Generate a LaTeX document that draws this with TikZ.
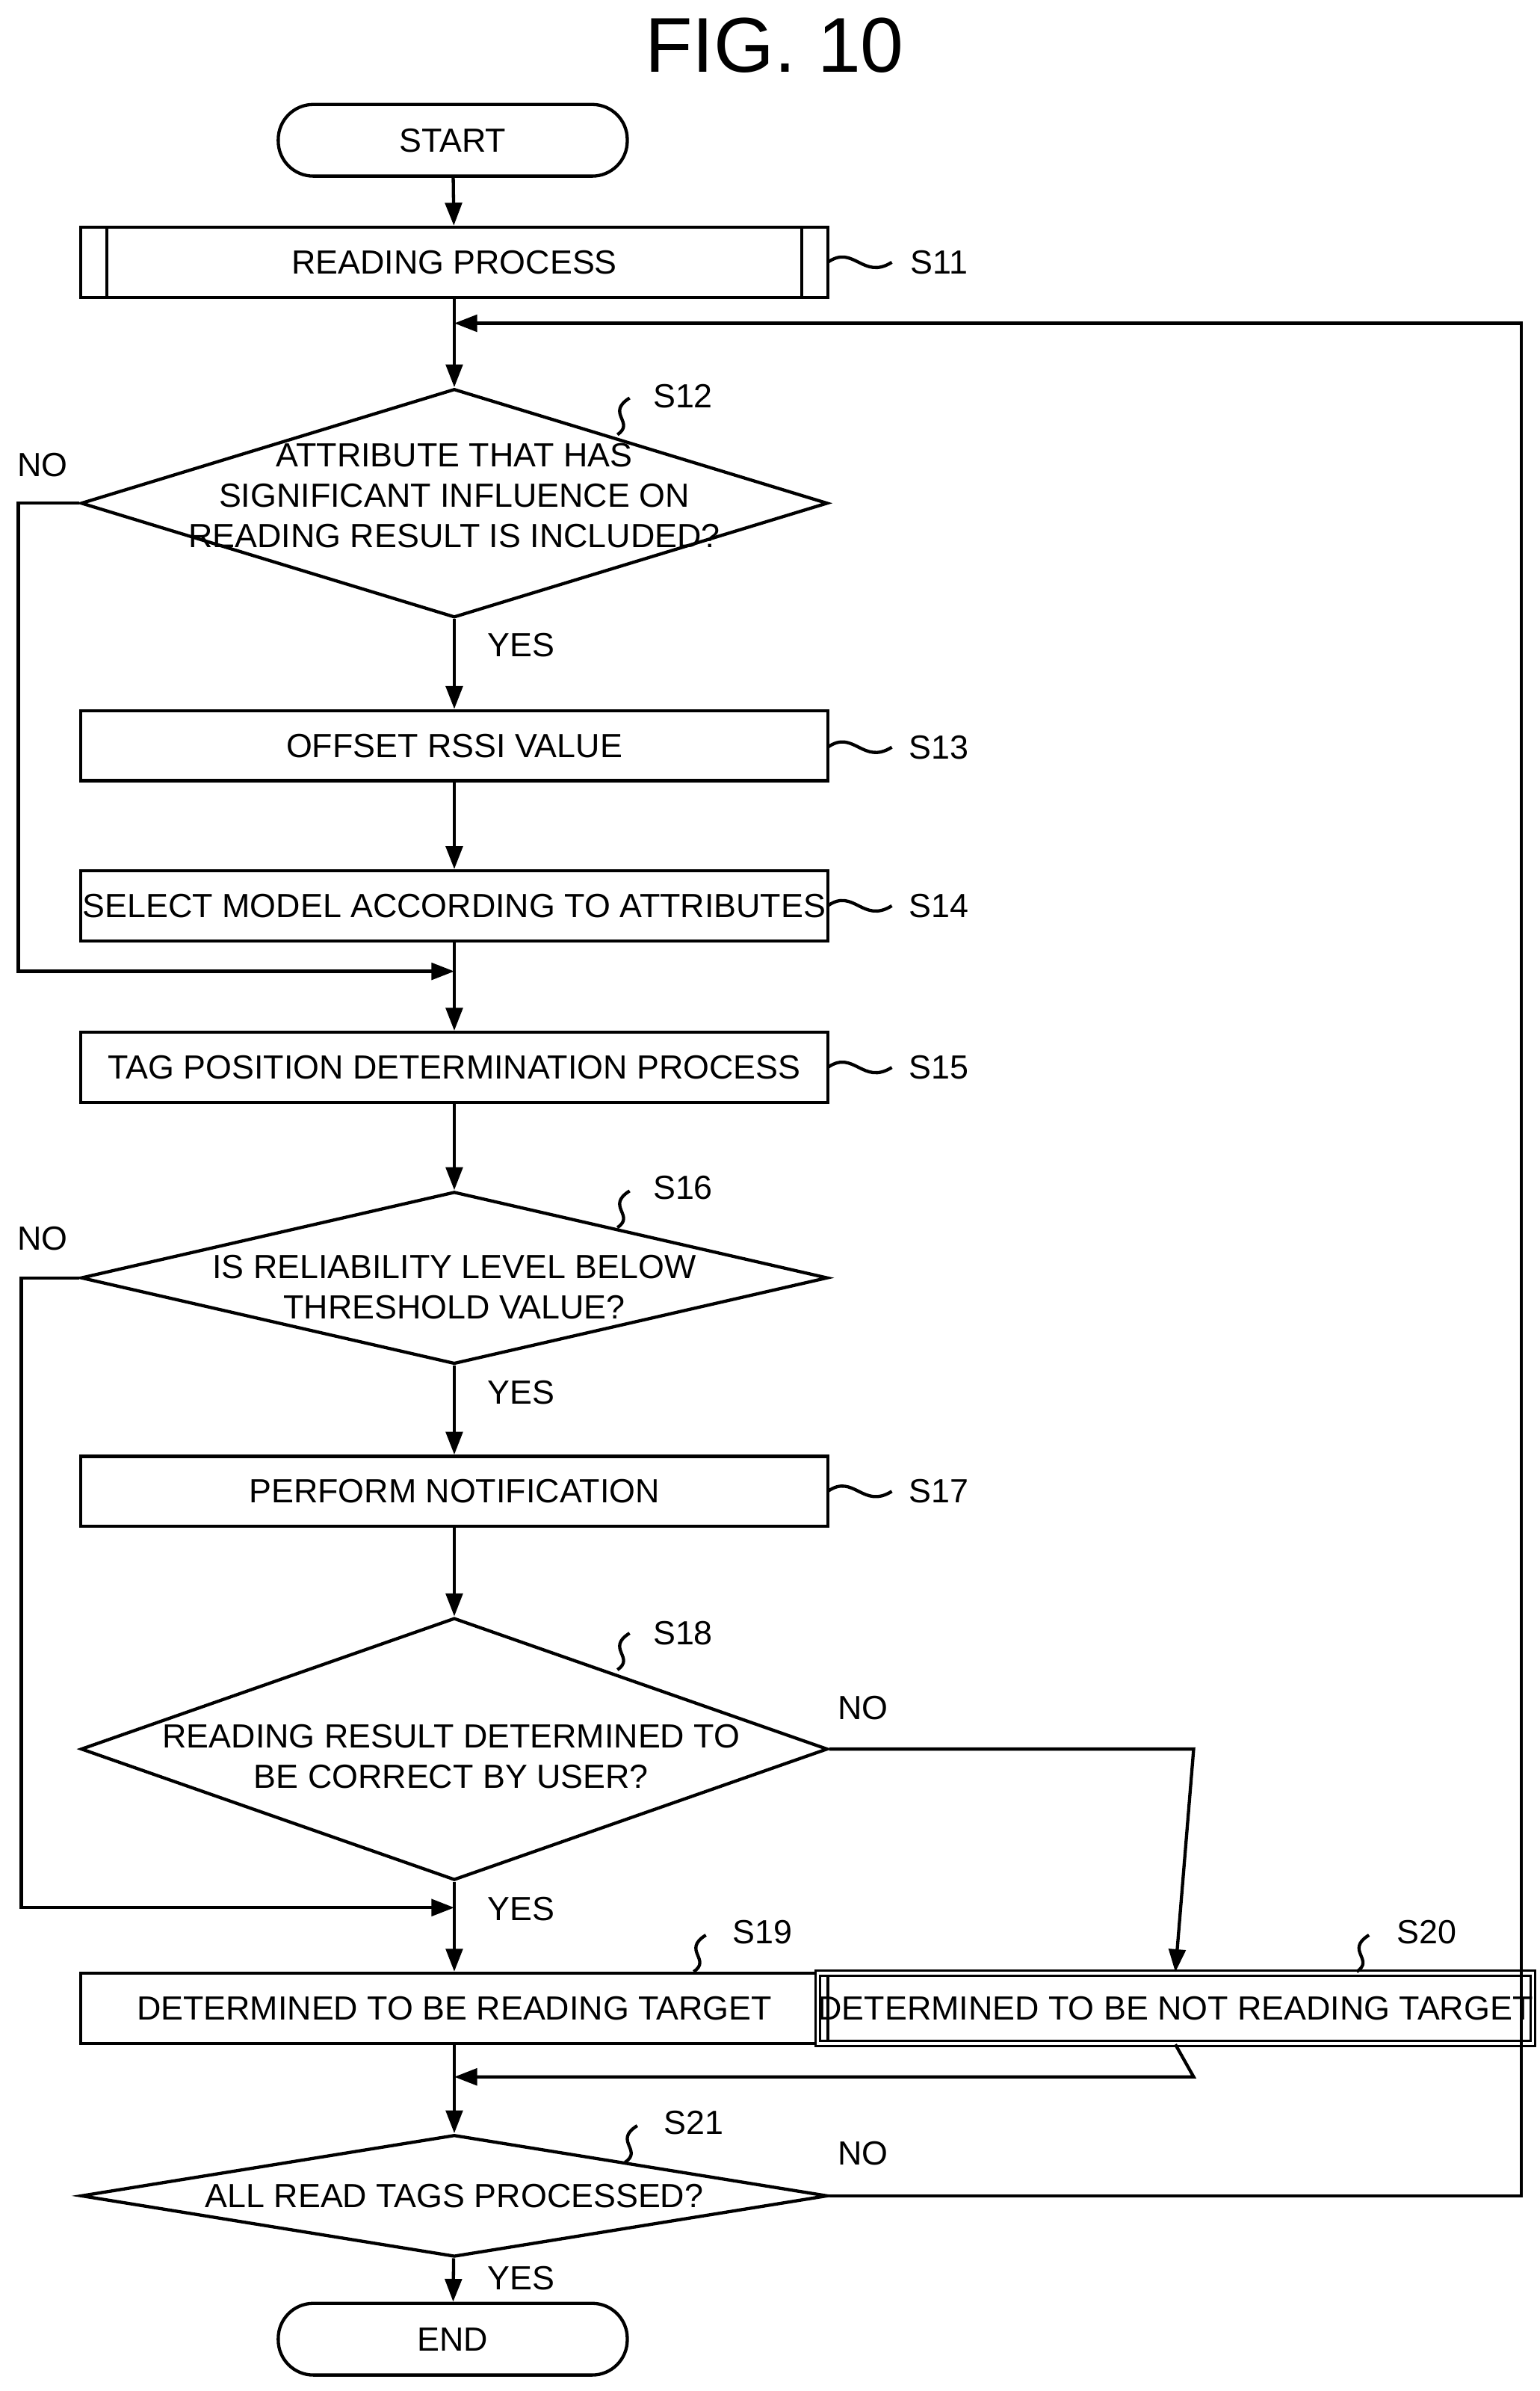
\documentclass[tikz,border=0pt]{standalone}
\usepackage{fontspec}
\setmainfont{Liberation Sans}
\usetikzlibrary{shapes.geometric,arrows.meta}
\begin{document}
\begin{tikzpicture}[x=0.02cm,y=-0.02cm,line width=1.2pt,
  box/.style={draw,rectangle,minimum width=9.8cm,minimum height=0.92cm,inner sep=0pt,font=\fontsize{12.5}{14}\selectfont},
  term/.style={draw,rounded corners=0.46cm,minimum width=4.58cm,minimum height=0.94cm,font=\fontsize{12.5}{14}\selectfont},
  dia/.style={draw,diamond,inner sep=0pt,minimum width=9.8cm},
  txt/.style={align=center,font=\fontsize{12.5}{15}\selectfont},
  lab/.style={font=\fontsize{12.5}{14}\selectfont},
  arr/.style={-{Triangle[length=0.3cm,width=0.22cm]}}]
\useasboundingbox (0,0) rectangle (1010,1568);
\node[font=\fontsize{29}{32}\selectfont] (title) at (508,30) {FIG. 10};
\node[term] (start) at (297,92) {START};
\node[box] (s11) at (298,172) {READING PROCESS};
\draw (70,150) -- (70,194) (526,150) -- (526,194);
\node[dia,minimum height=3cm] (s12) at (298,330) {};
\node[txt] (s12t) at (298,325) {ATTRIBUTE THAT HAS\\SIGNIFICANT INFLUENCE ON\\READING RESULT IS INCLUDED?};
\node[box] (s13) at (298,489) {OFFSET RSSI VALUE};
\node[box] (s14) at (298,594) {SELECT MODEL ACCORDING TO ATTRIBUTES};
\node[box] (s15) at (298,700) {TAG POSITION DETERMINATION PROCESS};
\node[dia,minimum height=2.26cm] (s16) at (298,838) {};
\node[txt] (s16t) at (298,844) {IS RELIABILITY LEVEL BELOW\\THRESHOLD VALUE?};
\node[box] (s17) at (298,978) {PERFORM NOTIFICATION};
\node[dia,minimum height=3.44cm] (s18) at (298,1147) {};
\node[txt] (s18t) at (296,1152) {READING RESULT DETERMINED TO\\BE CORRECT BY USER?};
\node[box] (s19) at (298,1317) {DETERMINED TO BE READING TARGET};
\node[box,minimum width=8.7cm,double,double distance=1pt,line width=0.8pt] (s20) at (771,1317) {DETERMINED TO BE NOT READING TARGET};
\node[dia,minimum height=1.6cm] (s21) at (298,1440) {};
\node[txt] (s21t) at (298,1440) {ALL READ TAGS PROCESSED?};
\node[term] (end) at (297,1534) {END};
% step labels
\foreach \n/\y in {s11/172,s13/490,s14/594,s15/700,s17/978}{
  \draw (543,\y) .. controls (560,\y-12) and (566,\y+12) .. (585,\y);
}
\node[lab] (l11) at (616,172) {S11};
\node[lab] (l13) at (616,490) {S13};
\node[lab] (l14) at (616,594) {S14};
\node[lab] (l15) at (616,700) {S15};
\node[lab] (l17) at (616,978) {S17};
\node[lab] (l12) at (448,260) {S12};
\node[lab] (l16) at (448,779) {S16};
\node[lab] (l18) at (448,1071) {S18};
\node[lab] (l19) at (500,1267) {S19};
\node[lab] (l20) at (936,1267) {S20};
\node[lab] (l21) at (455,1392) {S21};
\foreach \x/\y in {405/285,405/805,405/1095,455/1293,890/1293,410/1418}{
  \draw (\x,\y) .. controls (\x+12,\y-8) and (\x-8,\y-14) .. (\x+8,\y-24);
}
% yes/no
\node[lab] (n12) at (28,305) {NO};
\node[lab] (y12) at (342,423) {YES};
\node[lab] (n16) at (28,812) {NO};
\node[lab] (y16) at (342,913) {YES};
\node[lab] (n18) at (566,1120) {NO};
\node[lab] (y18) at (342,1252) {YES};
\node[lab] (n21) at (566,1412) {NO};
\node[lab] (y21) at (342,1494) {YES};
% connectors
\coordinate (j1) at (298,212);
\coordinate (j2) at (298,637);
\coordinate (j3) at (298,1251);
\coordinate (j4) at (298,1362);
\draw[arr] (start) -- (s11);
\draw[arr] (s11) -- (s12);
\draw[arr] (s12) -- (s13);
\draw[arr] (s13) -- (s14);
\draw[arr] (s14) -- (s15);
\draw[arr] (s15) -- (s16);
\draw[arr] (s16) -- (s17);
\draw[arr] (s17) -- (s18);
\draw[arr] (s18) -- (s19);
\draw[arr] (s19) -- (s21);
\draw[arr] (s21) -- (end);
\draw[arr] (s12.west) -- (12,330) -- (12,637) -- (j2);
\draw[arr] (s16.west) -- (14,838) -- (14,1251) -- (j3);
\draw[arr] (s18.east) -- (783,1147) -- (s20.north);
\draw[arr] (s20.south) -- (783,1362) -- (j4);
\draw[arr] (s21.east) -- (998,1440) -- (998,212) -- (j1);
\end{tikzpicture}
\end{document}
